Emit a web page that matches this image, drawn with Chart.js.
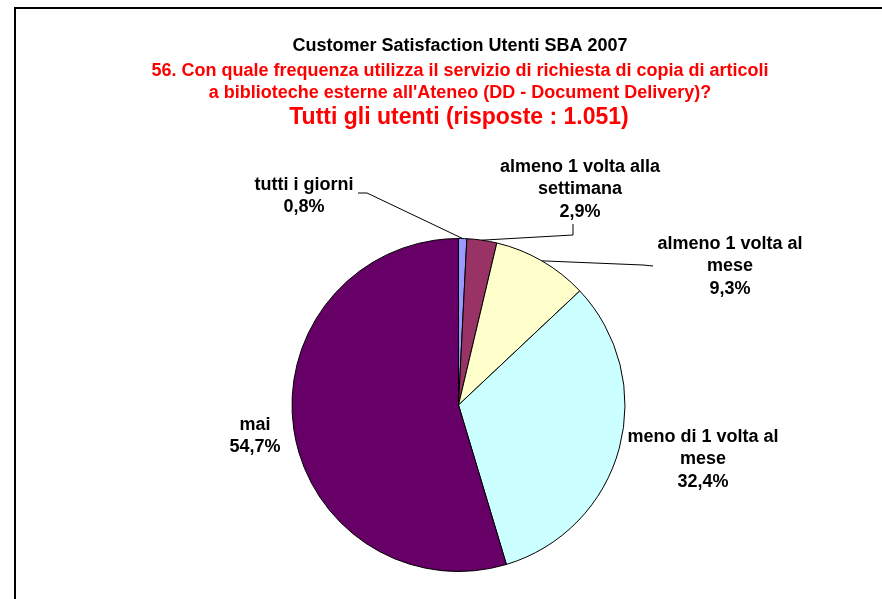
<!DOCTYPE html>
<html>
<head>
<meta charset="utf-8">
<title>Customer Satisfaction Utenti SBA 2007</title>
<script src="https://cdn.jsdelivr.net/npm/chart.js@4.4.0/dist/chart.umd.min.js"></script>
<style>
  html, body { margin: 0; padding: 0; background: #ffffff; }
  #wrap { width: 882px; height: 599px; position: relative; }
</style>
</head>
<body>
<div id="wrap"><canvas id="torta" width="882" height="599"></canvas></div>
<script>
// Dati del grafico
var categorie = ["tutti i giorni", "almeno 1 volta alla settimana", "almeno 1 volta al mese", "meno di 1 volta al mese", "mai"];
var percentuali = [0.8, 2.9, 9.3, 32.4, 54.7];
var colori = ["#9999FF", "#993366", "#FFFFCC", "#CCFFFF", "#660066"];

// Titoli
var titolo1 = "Customer Satisfaction Utenti SBA 2007";
var titolo2 = "56. Con quale frequenza utilizza il servizio di richiesta di copia di articoli";
var titolo3 = "a biblioteche esterne all'Ateneo (DD - Document Delivery)?";
var titolo4 = "Tutti gli utenti (risposte : 1.051)";

// Etichette su piu righe (testo + percentuale)
var righeEtichette = [
  ["tutti i giorni"],
  ["almeno 1 volta alla", "settimana"],
  ["almeno 1 volta al", "mese"],
  ["meno di 1 volta al", "mese"],
  ["mai"]
];

var FONT = "'Liberation Sans', Arial, sans-serif";

function fmt(v) {
  return v.toFixed(1).replace(".", ",") + "%";
}

// posizione (centro testo, prima riga) e punto di piega della linea guida
var posEtichette = [
  { x: 304, y: 185, gomito: [[358, 193], [367, 193]] },
  { x: 580, y: 167, gomito: [[573, 224], [573, 235]] },
  { x: 730, y: 244, gomito: [[653, 266], [643, 265]] },
  { x: 703, y: 437, gomito: null },
  { x: 255, y: 425, gomito: null }
];

// Plugin: cornice, titoli, etichette
var pluginTesti = {
  id: "testi",
  afterDraw: function(chart) {
    var ctx = chart.ctx;
    ctx.save();

    // cornice
    ctx.strokeStyle = "#000000";
    ctx.lineWidth = 2;
    ctx.beginPath();
    ctx.moveTo(15, 599);
    ctx.lineTo(15, 8);
    ctx.lineTo(882, 8);
    ctx.stroke();

    // titoli
    ctx.textAlign = "center";
    ctx.textBaseline = "middle";
    ctx.fillStyle = "#000000";
    ctx.font = "bold 18px " + FONT;
    ctx.fillText(titolo1, 460, 46);
    ctx.fillStyle = "#FF0000";
    ctx.font = "bold 18px " + FONT;
    ctx.fillText(titolo2, 460, 71);
    ctx.fillText(titolo3, 460, 93);
    ctx.font = "bold 23px " + FONT;
    ctx.fillText(titolo4, 459, 118);

    // etichette e linee guida
    var meta = chart.getDatasetMeta(0);
    ctx.font = "bold 18px " + FONT;
    ctx.fillStyle = "#000000";
    for (var i = 0; i < meta.data.length; i++) {
      var arc = meta.data[i];
      var p = posEtichette[i];
      var righe = righeEtichette[i].concat([fmt(percentuali[i])]);
      for (var r = 0; r < righe.length; r++) {
        ctx.fillText(righe[r], p.x, p.y + r * 22.5);
      }
      if (p.gomito) {
        var a = (arc.startAngle + arc.endAngle) / 2;
        var ex = arc.x + Math.cos(a) * arc.outerRadius;
        var ey = arc.y + Math.sin(a) * arc.outerRadius;
        ctx.strokeStyle = "#000000";
        ctx.lineWidth = 1;
        ctx.beginPath();
        ctx.moveTo(p.gomito[0][0], p.gomito[0][1]);
        ctx.lineTo(p.gomito[1][0], p.gomito[1][1]);
        ctx.lineTo(ex, ey);
        ctx.stroke();
      }
    }
    ctx.restore();
  }
};

var datiGrafico = {
  type: "pie",
  data: {
    labels: categorie,
    datasets: [
      {
        data: percentuali,
        backgroundColor: colori,
        borderColor: "#000000",
        borderWidth: 1
      }
    ]
  },
  options: {
    responsive: false,
    animation: false,
    layout: {
      padding: {
        left: 291,
        right: 256,
        top: 238,
        bottom: 27
      }
    },
    plugins: {
      legend: { display: false },
      tooltip: { enabled: false },
      title: { display: false }
    }
  },
  plugins: [pluginTesti]
};

var torta = new Chart(document.getElementById("torta"), datiGrafico);
</script>
</body>
</html>
